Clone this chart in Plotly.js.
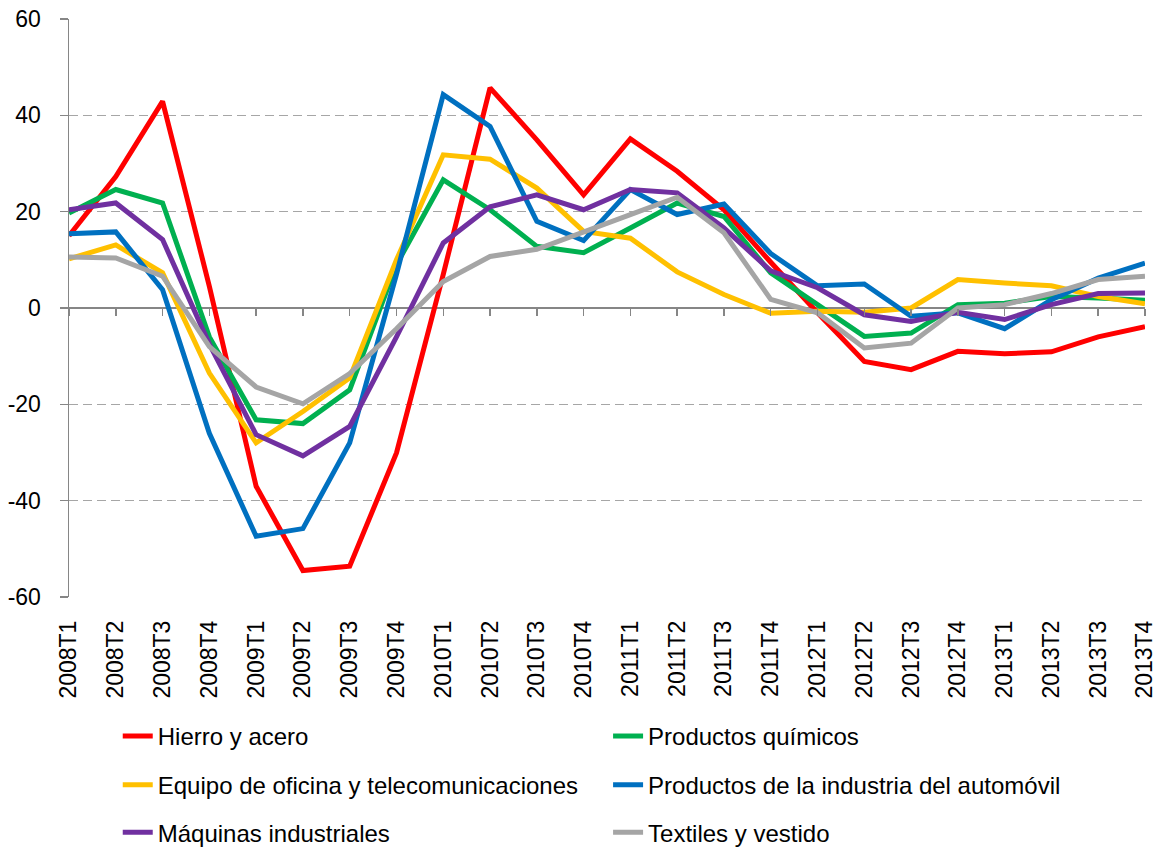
<!DOCTYPE html>
<html>
<head>
<meta charset="utf-8">
<script src="https://cdn.plot.ly/plotly-3.0.1.min.js"></script>
<style>
html,body{margin:0;padding:0;background:#fff;}
#chart{width:1160px;height:848px;}
</style>
</head>
<body>
<div id="chart"></div>
<script>
const categories = ["2008T1","2008T2","2008T3","2008T4","2009T1","2009T2","2009T3","2009T4",
  "2010T1","2010T2","2010T3","2010T4","2011T1","2011T2","2011T3","2011T4",
  "2012T1","2012T2","2012T3","2012T4","2013T1","2013T2","2013T3","2013T4"];

const hierroAcero = [15, 27.3, 42.9, 4.5, -37.0, -54.5, -53.6, -30.1, 7, 45.7, 34.9, 23.5,
  35.1, 28.4, 20.4, 9.5, -1, -11.1, -12.8, -9.0, -9.5, -9.1, -6.0, -3.9];
const productosQuimicos = [19.7, 24.6, 21.8, -6, -23.2, -24.0, -17.0, 9, 26.6, 20.4, 12.8, 11.5,
  16.6, 21.8, 19, 7.3, 0.7, -5.9, -5.2, 0.7, 1.0, 2.4, 2.1, 1.6];
const equipoOficina = [10.2, 13.1, 7.3, -13.5, -28.0, -21.5, -14.5, 10, 31.8, 30.9, 24.9, 15.9,
  14.5, 7.5, 2.8, -1.1, -0.7, -0.9, 0, 5.9, 5.2, 4.6, 2.4, 0.9];
const automovil = [15.4, 15.8, 3.8, -26, -47.4, -45.8, -28.0, 7, 44.3, 37.7, 18.0, 14.0,
  24.6, 19.4, 21.6, 11.3, 4.6, 5.0, -1.7, -1.0, -4.3, 1.7, 6.2, 9.3];
const maquinas = [20.4, 21.8, 14.2, -7.5, -26.3, -30.7, -24.6, -6, 13.5, 21.0, 23.5, 20.4,
  24.6, 23.9, 16.6, 7.7, 4.2, -1.4, -2.8, -0.9, -2.4, 0.7, 3.0, 3.1];
const textiles = [10.6, 10.4, 6.6, -8.0, -16.4, -19.9, -13.6, -4.3, 5.5, 10.7, 12.2, 15.7,
  19.4, 23.0, 15.6, 1.8, -1.0, -8.3, -7.3, 0, 0.7, 3.0, 5.9, 6.6];

const seriesNames = ["Hierro y acero", "Productos químicos", "Equipo de oficina y telecomunicaciones",
  "Productos de la industria del automóvil", "Máquinas industriales", "Textiles y vestido"];
const seriesData = [hierroAcero, productosQuimicos, equipoOficina, automovil, maquinas, textiles];
const seriesColors = ["#FF0000", "#00B050", "#FFC000", "#0070C0", "#7030A0", "#A5A5A5"];

const yTicks = [-60, -40, -20, 0, 20, 40, 60];
const yTickText = ["-60", "-40", "-20", "0", "20", "40", "60"];
const idx = categories.map((c, i) => i);

const FONT = "Liberation Sans, Arial, sans-serif";
const legendNames = ["legend", "legend2", "legend3", "legend4", "legend5", "legend6"];

const traces = seriesData.map((d, i) => ({
  type: "scatter",
  mode: "lines",
  x: idx,
  y: d,
  name: seriesNames[i],
  legend: legendNames[i],
  line: {color: seriesColors[i], width: 5},
  hoverinfo: "x+y+name"
}));

// empty helper trace so the zero-line tick axis is drawn
traces.unshift({
  type: "scatter", mode: "lines", x: [], y: [], xaxis: "x2", yaxis: "y",
  showlegend: false, hoverinfo: "skip"
});

// legend placement: 2 columns x 3 rows
const colX = [0.0453, 0.501];
const rowY = [-0.2412, -0.3256, -0.4078];

const layout = {
  width: 1160,
  height: 848,
  margin: {l: 69, r: 15, t: 19, b: 251, autoexpand: false},
  paper_bgcolor: "#ffffff",
  plot_bgcolor: "#ffffff",
  font: {family: FONT, size: 23, color: "#000000"},
  showlegend: true,
  xaxis: {
    range: [0, idx.length - 1],
    tickmode: "array",
    tickvals: idx,
    ticktext: categories,
    tickangle: -90,
    ticks: "",
    showgrid: false,
    zeroline: false,
    showline: false,
    ticklabelstandoff: 18,
    tickfont: {family: FONT, size: 23, color: "#000000"}
  },
  xaxis2: {
    overlaying: "x",
    anchor: "free",
    position: 0.5,
    range: [0, idx.length - 1],
    tickmode: "array",
    tickvals: idx,
    ticks: "outside",
    ticklen: 7,
    tickwidth: 1.5,
    tickcolor: "#868686",
    showticklabels: false,
    showgrid: false,
    zeroline: false,
    showline: false
  },
  yaxis: {
    range: [-60, 60],
    tickmode: "array",
    tickvals: yTicks,
    ticktext: yTickText,
    ticks: "outside",
    ticklen: 8,
    tickwidth: 1.5,
    tickcolor: "#868686",
    showline: true,
    linecolor: "#868686",
    linewidth: 1.5,
    showgrid: true,
    gridcolor: "#A6A6A6",
    gridwidth: 1.5,
    griddash: "9px,5px",
    zeroline: true,
    zerolinecolor: "#868686",
    zerolinewidth: 1.5,
    ticklabelstandoff: 14,
    tickfont: {family: FONT, size: 23, color: "#000000"}
  }
};

legendNames.forEach((ln, i) => {
  layout[ln] = {
    x: colX[i % 2],
    y: rowY[Math.floor(i / 2)],
    xanchor: "left",
    yanchor: "middle",
    orientation: "h",
    bgcolor: "rgba(0,0,0,0)",
    borderwidth: 0,
    font: {family: FONT, size: 24, color: "#000000"},
    itemwidth: 30
  };
});

Plotly.newPlot("chart", traces, layout, {staticPlot: true, displayModeBar: false});
</script>
</body>
</html>
